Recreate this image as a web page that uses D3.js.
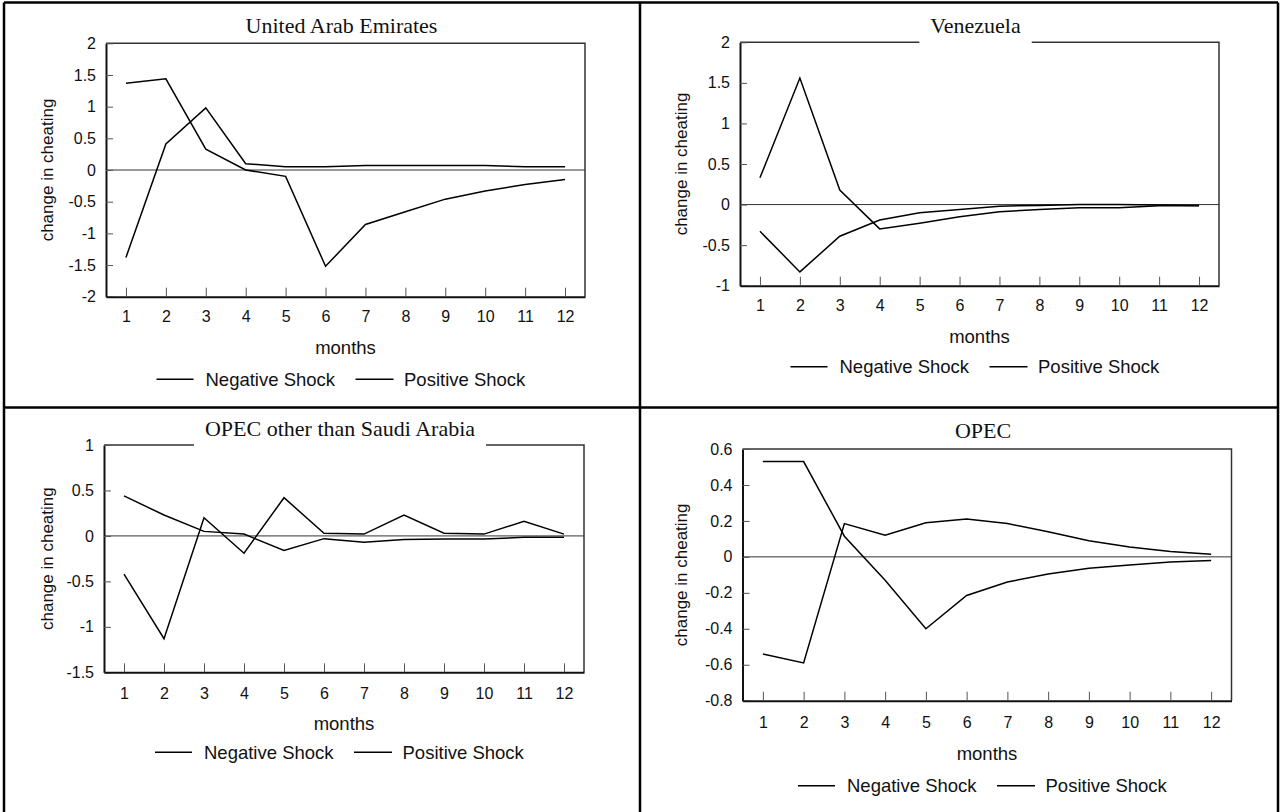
<!DOCTYPE html>
<html>
<head>
<meta charset="utf-8">
<script src="https://cdn.jsdelivr.net/npm/d3@7"></script>
<style>
  body { margin: 0; background: #fff; }
  svg { display: block; font-family: "Liberation Sans", Arial, sans-serif; }
</style>
</head>
<body>
<svg id="chart"></svg>
<script>
// values
var months = [1, 2, 3, 4, 5, 6, 7, 8, 9, 10, 11, 12];
var seriesNames = ["Negative Shock", "Positive Shock"];
var panelTitles = ["United Arab Emirates", "Venezuela", "OPEC other than Saudi Arabia", "OPEC"];

var uaeNeg = [-1.38, 0.41, 0.98, 0.10, 0.05, 0.05, 0.07, 0.07, 0.07, 0.07, 0.05, 0.05];
var uaePos = [1.37, 1.44, 0.33, 0.00, -0.10, -1.52, -0.86, -0.66, -0.46, -0.33, -0.23, -0.15];
var uaeTicks = [-2, -1.5, -1, -0.5, 0, 0.5, 1, 1.5, 2];

var venNeg = [-0.33, -0.83, -0.39, -0.19, -0.10, -0.06, -0.02, -0.01, 0.00, 0.00, -0.005, -0.01];
var venPos = [0.33, 1.56, 0.18, -0.30, -0.23, -0.15, -0.09, -0.06, -0.04, -0.04, -0.015, -0.015];
var venTicks = [-1, -0.5, 0, 0.5, 1, 1.5, 2];

var opxNeg = [-0.42, -1.13, 0.20, -0.19, 0.42, 0.03, 0.02, 0.23, 0.03, 0.02, 0.16, 0.02];
var opxPos = [0.44, 0.23, 0.05, 0.02, -0.16, -0.03, -0.07, -0.04, -0.035, -0.035, -0.015, -0.015];
var opxTicks = [-1.5, -1, -0.5, 0, 0.5, 1];

var opecNeg = [-0.54, -0.59, 0.185, 0.12, 0.19, 0.21, 0.185, 0.14, 0.09, 0.055, 0.03, 0.015];
var opecPos = [0.53, 0.53, 0.115, -0.13, -0.40, -0.215, -0.14, -0.095, -0.063, -0.045, -0.028, -0.02];
var opecTicks = [-0.8, -0.6, -0.4, -0.2, 0, 0.2, 0.4, 0.6];

var W = 1282, H = 812;
var svg = d3.select("#chart").attr("width", W).attr("height", H);

// layout of the four cells
var panels = [
  {title: panelTitles[0], neg: uaeNeg, pos: uaePos, ticks: uaeTicks,
   x0: 106, x1: 585, y0: 43.3, y1: 296.7, titleY: 25, box: false,
   tickPad: 14, monthsY: 347.7, legendY: 379.3, ylabX: 47},
  {title: panelTitles[1], neg: venNeg, pos: venPos, ticks: venTicks,
   x0: 740, x1: 1219, y0: 42.3, y1: 285.7, titleY: 25, box: true,
   tickPad: 14, monthsY: 336.7, legendY: 366.7, ylabX: 681},
  {title: panelTitles[2], neg: opxNeg, pos: opxPos, ticks: opxTicks,
   x0: 104, x1: 584, y0: 445, y1: 672.3, titleY: 428.3, box: true,
   tickPad: 15, monthsY: 723.3, legendY: 752.3, ylabX: 47},
  {title: panelTitles[3], neg: opecNeg, pos: opecPos, ticks: opecTicks,
   x0: 742.5, x1: 1231.5, y0: 449, y1: 700.7, titleY: 430.7, box: false,
   tickPad: 16, monthsY: 753.3, legendY: 785.7, ylabX: 681}
];

panels.forEach(function(p) {
  var g = svg.append("g");
  var x = d3.scaleLinear().domain([0.5, 12.5]).range([p.x0, p.x1]);
  var y = d3.scaleLinear().domain(d3.extent(p.ticks)).range([p.y1, p.y0]);
  var cx = (p.x0 + p.x1) / 2, cy = (p.y0 + p.y1) / 2;

  // top and right frame
  g.append("path")
    .attr("d", "M" + p.x0 + "," + p.y0 + "H" + p.x1 + "V" + p.y1)
    .attr("fill", "none").attr("stroke", "#333").attr("stroke-width", 1.5);

  // zero line
  g.append("line")
    .attr("x1", p.x0).attr("x2", p.x1)
    .attr("y1", y(0)).attr("y2", y(0))
    .attr("stroke", "#333").attr("stroke-width", 1);

  var line = d3.line().x(function(d, i) { return x(months[i]); }).y(function(d) { return y(d); });
  [p.neg, p.pos].forEach(function(s) {
    g.append("path").datum(s)
      .attr("d", line)
      .attr("fill", "none").attr("stroke", "#000").attr("stroke-width", 1.5)
      .attr("stroke-linejoin", "miter");
  });

  var yAxis = g.append("g")
    .attr("transform", "translate(" + p.x0 + ",0)")
    .call(d3.axisLeft(y).tickValues(p.ticks).tickSize(-7).tickSizeOuter(0).tickPadding(10)
      .tickFormat(function(d) { return String(d); }));
  var xAxis = g.append("g")
    .attr("transform", "translate(0," + p.y1 + ")")
    .call(d3.axisBottom(x).tickValues(months).tickSize(-9).tickSizeOuter(0).tickPadding(p.tickPad)
      .tickFormat(function(d) { return String(d); }));
  [yAxis, xAxis].forEach(function(a) {
    a.select(".domain").attr("stroke", "#111").attr("stroke-width", 2);
    a.selectAll(".tick line").attr("stroke", "#555").attr("stroke-width", 1);
    a.selectAll(".tick text").attr("font-size", 16).attr("fill", "#111")
      .attr("font-family", "Liberation Sans, Arial, sans-serif");
  });

  // title, some of them sit on a white box over the frame
  var t = g.append("text")
    .attr("x", cx - 4).attr("y", p.titleY).attr("dy", "0.35em")
    .attr("text-anchor", "middle")
    .attr("font-family", "Liberation Serif, Times New Roman, serif")
    .attr("font-size", 22).attr("fill", "#111")
    .text(p.title);
  if (p.box) {
    var tw = t.node().getComputedTextLength();
    g.insert("rect", function() { return t.node(); })
      .attr("x", cx - 4 - tw / 2 - 11).attr("width", tw + 22)
      .attr("y", p.titleY - 16).attr("height", p.y0 - p.titleY + 17.5)
      .attr("fill", "#fff");
  }

  g.append("text")
    .attr("x", cx).attr("y", p.monthsY).attr("dy", "0.35em")
    .attr("text-anchor", "middle").attr("font-size", 18.5).attr("fill", "#111")
    .text("months");

  g.append("text")
    .attr("transform", "translate(" + p.ylabX + "," + cy + ") rotate(-90)")
    .attr("dy", "0.35em")
    .attr("text-anchor", "middle").attr("font-size", 17).attr("fill", "#111")
    .text("change in cheating");

  // legend
  var leg = [{x1: -189, x2: -152, tx: -140}, {x1: 10, x2: 48, tx: 58.5}];
  leg.forEach(function(l, i) {
    g.append("line")
      .attr("x1", cx + l.x1).attr("x2", cx + l.x2)
      .attr("y1", p.legendY).attr("y2", p.legendY)
      .attr("stroke", "#000").attr("stroke-width", 1.5);
    g.append("text")
      .attr("x", cx + l.tx).attr("y", p.legendY).attr("dy", "0.35em")
      .attr("font-size", 18.5).attr("fill", "#111")
      .text(seriesNames[i]);
  });
});

// table borders round the cells
var borders = [
  [4, 2.5, 1278, 2.5], [4, 2.5, 4, H], [1278, 2.5, 1278, H],
  [640, 2.5, 640, H], [4, 407.5, 1278, 407.5]
];
svg.selectAll(".border").data(borders).enter().append("line")
  .attr("class", "border")
  .attr("x1", function(d) { return d[0]; }).attr("y1", function(d) { return d[1]; })
  .attr("x2", function(d) { return d[2]; }).attr("y2", function(d) { return d[3]; })
  .attr("stroke", "#000").attr("stroke-width", 2.5);
</script>
</body>
</html>
